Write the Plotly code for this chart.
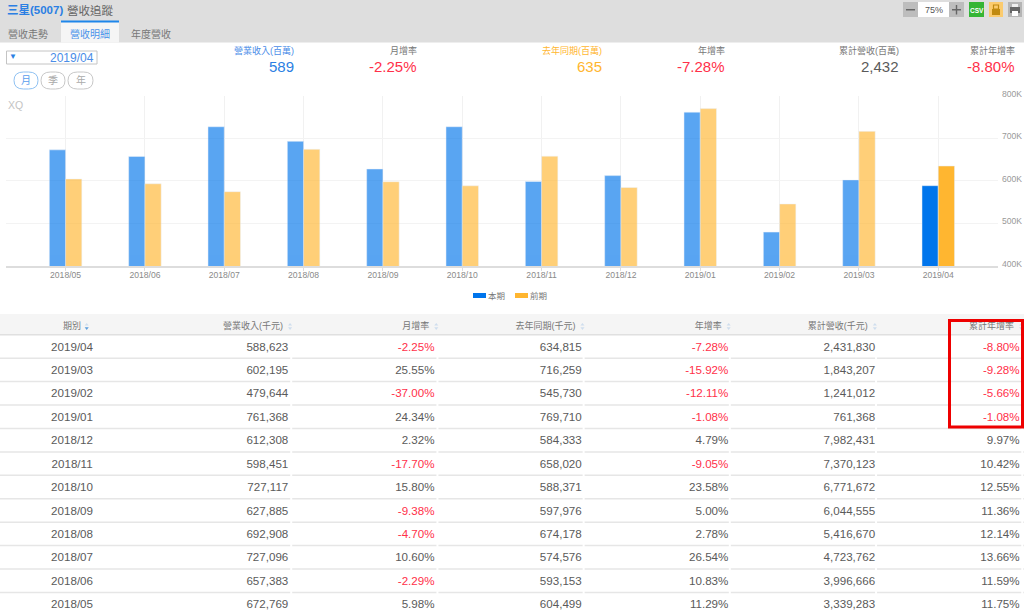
# revenue tracking page: summary, bar chart and monthly table
import plotly.graph_objects as go

W, H = 1024, 614

periods = ["2019/04", "2019/03", "2019/02", "2019/01", "2018/12", "2018/11",
           "2018/10", "2018/09", "2018/08", "2018/07", "2018/06", "2018/05"]
revenue = [588623, 602195, 479644, 761368, 612308, 598451,
           727117, 627885, 692908, 727096, 657383, 672769]
mom = ["-2.25%", "25.55%", "-37.00%", "24.34%", "2.32%", "-17.70%",
       "15.80%", "-9.38%", "-4.70%", "10.60%", "-2.29%", "5.98%"]
last_year = [634815, 716259, 545730, 769710, 584333, 658020,
             588371, 597976, 674178, 574576, 593153, 604499]
yoy = ["-7.28%", "-15.92%", "-12.11%", "-1.08%", "4.79%", "-9.05%",
       "23.58%", "5.00%", "2.78%", "26.54%", "10.83%", "11.29%"]
cumulative = [2431830, 1843207, 1241012, 761368, 7982431, 7370123,
              6771672, 6044555, 5416670, 4723762, 3996666, 3339283]
cum_yoy = ["-8.80%", "-9.28%", "-5.66%", "-1.08%", "9.97%", "10.42%",
           "12.55%", "11.36%", "12.14%", "13.66%", "11.59%", "11.75%"]

headers = ["期別", "營業收入(千元)", "月增率", "去年同期(千元)", "年增率", "累計營收(千元)", "累計年增率"]
tabs = ["營收走勢", "營收明細", "年度營收"]
freq_buttons = ["月", "季", "年"]
summary_labels = ["營業收入(百萬)", "月增率", "去年同期(百萬)", "年增率", "累計營收(百萬)", "累計年增率"]
summary_values = ["589", "-2.25%", "635", "-7.28%", "2,432", "-8.80%"]
y_ticks = [400, 500, 600, 700, 800]

FONT = "Liberation Sans, Noto Sans CJK TC, sans-serif"
BLUE = "#0075ec"
ORANGE = "#ffb630"
RED = "#ff3049"
TEXT = "#5a5a5a"
LIGHT = "#8a8a8a"


def px(x):
    return x / W


def py(y):
    return 1 - y / H


shapes = []
annotations = []


def box(x0, y0, x1, y1, fill=None, line=None, width=1, layer="below"):
    shapes.append(dict(type="rect", xref="paper", yref="paper", layer=layer,
                       x0=px(x0), x1=px(x1), y0=py(y0), y1=py(y1),
                       fillcolor=fill or "rgba(0,0,0,0)",
                       line=dict(color=line or "rgba(0,0,0,0)", width=width if line else 0)))


def label(x, y, text, size=10, color=TEXT, anchor="right"):
    annotations.append(dict(xref="paper", yref="paper", x=px(x), y=py(y), text=text,
                            showarrow=False, xanchor=anchor, yanchor="middle",
                            font=dict(size=size, color=color, family=FONT),
                            borderpad=0, borderwidth=0))


def pill(x0, y0, x1, y1, color):
    r = (y1 - y0) / 2
    pts = [f"M{px(x0 + r)},{py(y0)}", f"L{px(x1 - r)},{py(y0)}",
           f"Q{px(x1 + 1)},{py(y0)} {px(x1 + 1)},{py(y0 + r)}",
           f"Q{px(x1 + 1)},{py(y1)} {px(x1 - r)},{py(y1)}",
           f"L{px(x0 + r)},{py(y1)}",
           f"Q{px(x0 - 1)},{py(y1)} {px(x0 - 1)},{py(y0 + r)}",
           f"Q{px(x0 - 1)},{py(y0)} {px(x0 + r)},{py(y0)}Z"]
    shapes.append(dict(type="path", xref="paper", yref="paper", path=" ".join(pts),
                       layer="below", line=dict(color=color, width=1), fillcolor="white"))


# top grey band and tabs
box(0, 0, W, 42.5, fill="#dedede")
box(61, 21, 119, 42.5, fill="#f5f5f5")
box(61, 20.5, 119, 22.5, fill="#1e86ea")
label(7, 10, "<b>三星(5007)</b>", 11.5, "#2b7fe3", "left")
label(67, 10, "營收追蹤", 11.5, "#666666", "left")
for name, cx, col in zip(tabs, [28, 90, 151], ["#777777", "#4a93ea", "#777777"]):
    label(cx, 33.5, name, 10, col, "center")

# toolbar
box(903, 2, 918, 17, fill="#bdbdbd")
box(918, 2, 949, 17, fill="white")
box(949, 2, 964, 17, fill="#bdbdbd")
box(906, 9, 915, 10.5, fill="#666666")
box(952, 9, 961, 10.5, fill="#666666")
box(955.8, 5, 957.2, 14.5, fill="#666666")
label(933.5, 10, "75%", 9, "#555555", "center")
box(969, 2, 984, 17, fill="#35b535")
label(976.5, 10, "<b>CSV</b>", 6.5, "white", "center")
box(989, 2, 1003, 17, fill="#fbcb6e")
box(992, 9, 1000, 15, fill="#c08a10")
box(993.5, 5, 998.5, 9, line="#c08a10", width=1.2)
box(1008, 2, 1022, 17, fill="#b5b5b5")
box(1010, 7, 1020, 13, fill="#666666")
box(1012, 4, 1018, 7, fill="#eeeeee")
box(1012, 11, 1018, 16, fill="white")

# date picker and frequency buttons
box(6.5, 51, 97, 64, fill="white", line="#c4c4c4", width=1)
label(13, 56.5, "▼", 8, "#2b7fe3", "center")
label(94, 57.5, "2019/04", 12, "#4a8de8")
for name, x0, x1, active in zip(freq_buttons, [15, 42, 69], [37, 64, 92], [True, False, False]):
    pill(x0, 72, x1, 89, "#8fc1f2" if active else "#c8c8c8")
    label((x0 + x1) / 2, 80.5, name, 10, "#5a9ded" if active else "#aaaaaa", "center")

# summary figures
label_right = [294, 417, 602, 725, 899, 1015]
summary_colors = ["#2b7fe3", RED, ORANGE, RED, TEXT, RED]
summary_label_colors = ["#4a8de8", "#777777", ORANGE, "#777777", "#777777", "#777777"]
for xr, lab, val, col, lcol in zip(label_right, summary_labels, summary_values,
                                   summary_colors, summary_label_colors):
    label(xr, 50, lab, 9, lcol)
    label(xr, 66, val, 15, col)

# chart extras
label(8, 105.5, "XQ", 10.5, "#c4c4c4", "left")
box(473, 293, 486, 298, fill=BLUE)
label(488, 295.5, "本期", 8.5, "#777777", "left")
box(515, 293, 528, 298, fill=ORANGE)
label(530, 295.5, "前期", 8.5, "#777777", "left")

# chart runs oldest to newest, the table newest to oldest
months = periods[::-1]
opac = [0.65] * (len(months) - 1) + [1]

fig = go.Figure()
fig.add_trace(go.Bar(x=months, y=[v / 1000 for v in revenue[::-1]], name="本期",
                     marker=dict(color=BLUE, opacity=opac), xaxis="x", yaxis="y",
                     showlegend=False))
fig.add_trace(go.Bar(x=months, y=[v / 1000 for v in last_year[::-1]], name="前期",
                     marker=dict(color=ORANGE, opacity=opac), xaxis="x", yaxis="y",
                     showlegend=False))

# table: x2 is the column number, y2 the row number
rows = list(range(len(periods)))
text_rows = [r + 0.05 for r in rows]
columns = [
    [f"{v:,}" for v in revenue], mom,
    [f"{v:,}" for v in last_year], yoy,
    [f"{v:,}" for v in cumulative], cum_yoy,
]
HEAD_ROW = -0.86
FIRST_COL = -0.479
# small nudges, the columns in the picture are not quite evenly spaced
col_shift = [0, 0, 0.007, 0.01, 0.014, 0.002]

for r in rows:
    shapes.append(dict(type="line", xref="x2", yref="y2", layer="below", x0=-1, x1=7,
                       y0=r + 0.5, y1=r + 0.5, line=dict(color="#e6e6e6", width=1.5)))
shapes.append(dict(type="rect", xref="x2", yref="y2", layer="below", x0=-1, x1=7,
                   y0=-1.386, y1=-0.5, fillcolor="#f5f5f5", line=dict(width=0)))
shapes.append(dict(type="line", xref="x2", yref="y2", layer="below", x0=-1, x1=7,
                   y0=-0.5, y1=-0.5, line=dict(color="#e0e0e0", width=1.5)))
for c in range(1, 7):
    shapes.append(dict(type="line", xref="x2", yref="y2", layer="below", x0=c + 0.02, x1=c + 0.02,
                       y0=-0.4, y1=11.42, line=dict(color="white", width=2)))

fig.add_trace(go.Scatter(x=[FIRST_COL] * len(rows), y=text_rows, text=periods, mode="text",
                         textposition="middle center", xaxis="x2", yaxis="y2",
                         textfont=dict(size=11.6, color=TEXT, family=FONT),
                         cliponaxis=False, showlegend=False, hoverinfo="skip"))
for c, values in enumerate(columns, start=1):
    fig.add_trace(go.Scatter(x=[c + col_shift[c - 1]] * len(rows), y=text_rows, text=values, mode="text",
                             textposition="middle left", xaxis="x2", yaxis="y2",
                             textfont=dict(size=11.6, family=FONT,
                                           color=[RED if v.startswith("-") else TEXT for v in values]),
                             cliponaxis=False, showlegend=False, hoverinfo="skip"))

# header texts and sort arrows
fig.add_trace(go.Scatter(x=[FIRST_COL], y=[HEAD_ROW], text=headers[:1], mode="text",
                         textposition="middle center", xaxis="x2", yaxis="y2",
                         textfont=dict(size=9, color="#777777", family=FONT),
                         showlegend=False, hoverinfo="skip"))
fig.add_trace(go.Scatter(x=[c - 0.036 for c in range(1, 7)], y=[HEAD_ROW] * 6, text=headers[1:],
                         mode="text", textposition="middle left", xaxis="x2", yaxis="y2",
                         textfont=dict(size=9, color="#777777", family=FONT),
                         showlegend=False, hoverinfo="skip"))
arrow_x = [FIRST_COL + 0.1] + [c + 0.012 for c in range(1, 7)]
fig.add_trace(go.Scatter(x=arrow_x, y=[HEAD_ROW - 0.07] * 7, mode="markers", xaxis="x2", yaxis="y2",
                         marker=dict(symbol="triangle-up", size=3.5, color="#cfdeee"),
                         showlegend=False, hoverinfo="skip", cliponaxis=False))
fig.add_trace(go.Scatter(x=arrow_x, y=[HEAD_ROW + 0.08] * 7, mode="markers", xaxis="x2", yaxis="y2",
                         marker=dict(symbol="triangle-down", size=3.5,
                                     color=["#5f9fdc"] + ["#cfdeee"] * 6),
                         showlegend=False, hoverinfo="skip", cliponaxis=False))

# red highlight around the cumulative growth column
box(949.5, 320.5, 1022.5, 427, line="#ee0000", width=3, layer="above")

fig.update_layout(
    width=W, height=H, margin=dict(l=0, r=0, t=0, b=0, autoexpand=False),
    paper_bgcolor="white", plot_bgcolor="rgba(0,0,0,0)",
    barmode="group", bargap=0.59, bargroupgap=0,
    shapes=shapes, annotations=annotations,
    font=dict(family=FONT),
    xaxis=dict(domain=[px(6), px(998)], range=[-0.751, 11.753], type="category",
               categoryorder="array", categoryarray=months, anchor="y",
               showgrid=True, gridcolor="#f1f1f1", gridwidth=1,
               showline=True, linecolor="#dddddd", linewidth=1.5,
               ticks="outside", ticklen=3, tickcolor="#dddddd", ticklabelstandoff=-3,
               tickfont=dict(size=8.6, color=LIGHT, family=FONT), fixedrange=True),
    yaxis=dict(domain=[py(266), py(95.7)], range=[400, 800], side="right", anchor="x",
               tickvals=y_ticks, ticktext=[f"{v}K" for v in y_ticks],
               showgrid=True, gridcolor="#f3f3f3", gridwidth=1, zeroline=False, showline=False,
               ticks="", ticklabelstandoff=3, ticklabelshift=-2,
               tickfont=dict(size=8.6, color="#999999", family=FONT), fixedrange=True),
    xaxis2=dict(domain=[0, 1], range=[-0.972, 6.032], anchor="y2", visible=False, fixedrange=True),
    yaxis2=dict(domain=[0, py(314)], range=[11.42, -1.386], anchor="x2", visible=False, fixedrange=True),
)

fig.write_html("out.html", config={"displayModeBar": False},
               post_script="document.body.style.margin='0';document.documentElement.style.overflow='hidden';")
